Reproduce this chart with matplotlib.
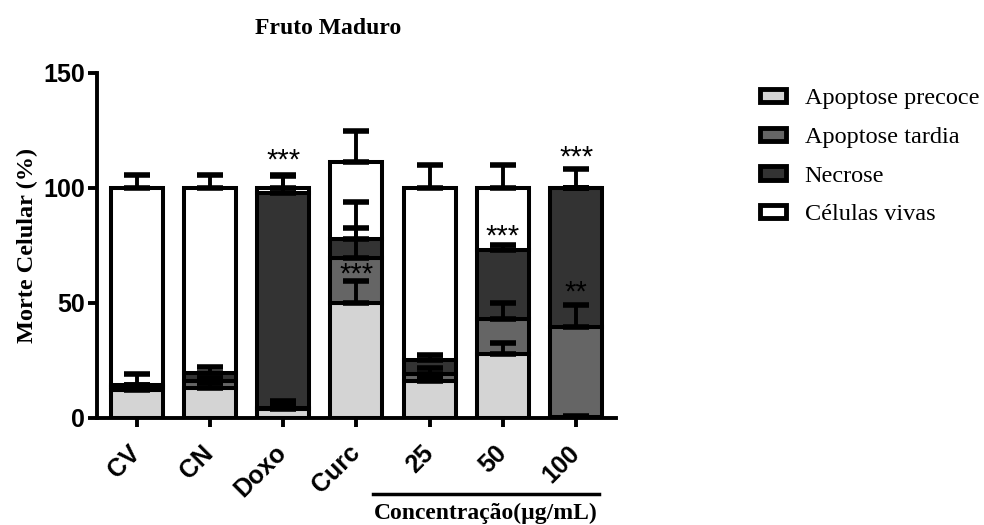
import matplotlib.pyplot as plt
from matplotlib.font_manager import FontProperties
import numpy as np

# dados (valores empilhados)
grupos = ["CV", "CN", "Doxo", "Curc", "25", "50", "100"]
precoce = [12, 13, 4, 50, 16, 28, 0.5]
tardia = [1.5, 3, 0.5, 19.5, 3, 15, 39]
necrose = [1, 3.5, 93.5, 8.5, 6, 30, 60.5]
vivas = [85.5, 80.5, 2, 33.5, 75, 27, 0]

err_precoce = [2, 2, 3.5, 9.6, 2, 4.6, 0.5]
err_tardia = [1, 1.5, 1, 13, 2.6, 7, 9.8]
err_necrose = [4.5, 2.8, 7, 16, 2.3, 2, 8.4]
err_vivas = [5.5, 5.5, 5.5, 13.3, 10, 10, 0]

# significância: (grupo, altura, texto)
estrelas = [(2, 112, "***"), (3, 62.5, "***"), (5, 79, "***"),
            (6, 54.5, "**"), (6, 113, "***")]

series = [("Apoptose precoce", precoce, err_precoce, "#d4d4d4"),
          ("Apoptose tardia", tardia, err_tardia, "#656565"),
          ("Necrose", necrose, err_necrose, "#333333"),
          ("Células vivas", vivas, err_vivas, "white")]

fig = plt.figure(figsize=(9.84, 5.25), dpi=100)
ax = fig.add_axes([0.0986, 0.204, 0.527, 0.657])

x = np.arange(len(grupos))
base = np.zeros(len(grupos))
handles = []
tops = []
for nome, vals, errs, cor in series:
    vals = np.array(vals, dtype=float)
    h = ax.bar(x, vals, 0.71, bottom=base, color=cor, edgecolor="black",
               linewidth=2.9, label=nome, zorder=2)
    handles.append(h)
    base = base + vals
    tops.append((base.copy(), errs))

for topo, errs in tops:
    ax.errorbar(x, topo, yerr=[np.zeros(len(errs)), errs], fmt="none",
                ecolor="black", elinewidth=2.8, capsize=9.5, capthick=4, zorder=3)

for i, y, s in estrelas:
    ax.text(x[i], y, s, ha="center", va="center", fontsize=21,
            family="Liberation Sans", zorder=4)

ax.set_xlim(-0.54, 6.54)
ax.set_ylim(0, 150)
ax.set_yticks([0, 50, 100, 150])
ax.set_xticks(x)
ax.set_xticklabels(grupos, rotation=45, ha="right", va="center",
                   rotation_mode="anchor",
                   fontsize=18, fontweight="bold", family="Liberation Sans")
for lbl in ax.get_yticklabels():
    lbl.set_fontsize(18)
    lbl.set_fontweight("bold")
    lbl.set_family("Liberation Sans")
for s in ["top", "right"]:
    ax.spines[s].set_visible(False)
for s in ["left", "bottom"]:
    ax.spines[s].set_linewidth(2.8)
ax.tick_params(width=2.8, length=6.5)
ax.tick_params(axis="x", pad=16)
ax.tick_params(axis="y", pad=2)

ax.set_ylabel("Morte Celular (%)", fontsize=17.5, fontweight="bold",
              family="Liberation Serif", labelpad=4)
ax.set_title("Fruto Maduro", fontsize=17, fontweight="bold",
             family="Liberation Serif", pad=28, x=0.446)

# linha e rótulo das concentrações
tr = ax.get_xaxis_transform()
ax.plot([3.23, 6.31], [-0.22, -0.22], color="black", lw=2.5,
        transform=tr, clip_on=False)
ax.text(4.77, -0.278, "Concentração(µg/mL)", transform=tr, ha="center",
        va="center", fontsize=17, fontweight="bold", family="Liberation Serif")

fonte_leg = FontProperties(family="Liberation Serif", size=17.5)
leg = fig.legend(handles=handles, loc="upper left", bbox_to_anchor=(0.772, 0.832),
                 frameon=False, prop=fonte_leg,
                 handlelength=1.1, handleheight=0.45, labelspacing=0.73,
                 handletextpad=0.75, borderpad=0, borderaxespad=0)
for p in leg.get_patches():
    p.set_linewidth(3.5)

fig.savefig("out.png", dpi=100)
